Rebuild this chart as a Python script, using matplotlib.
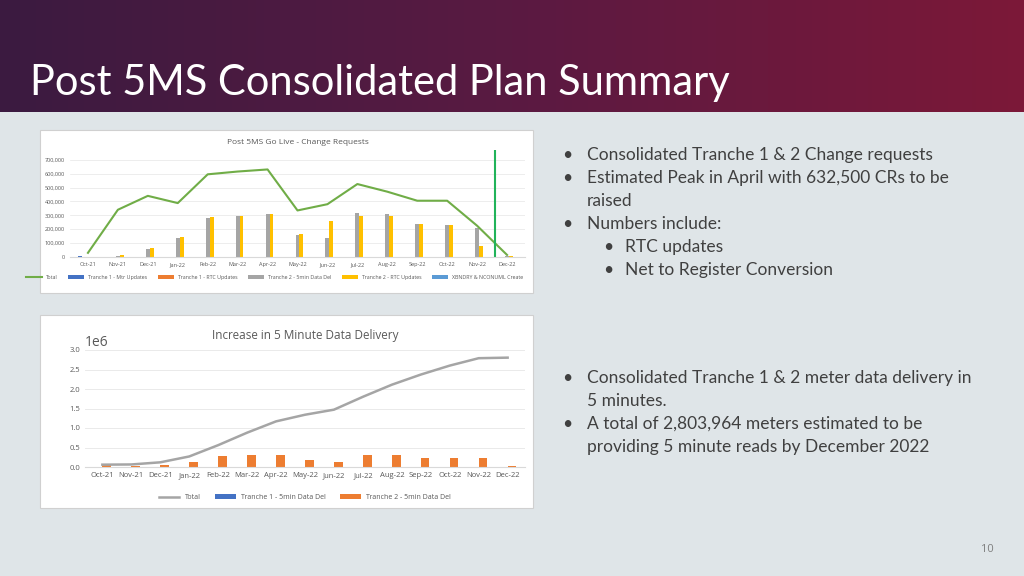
import matplotlib.pyplot as plt
import numpy as np
from matplotlib.patches import Rectangle
from matplotlib.colors import LinearSegmentedColormap

months = ['Oct-21', 'Nov-21', 'Dec-21', 'Jan-22', 'Feb-22', 'Mar-22', 'Apr-22', 'May-22',
          'Jun-22', 'Jul-22', 'Aug-22', 'Sep-22', 'Oct-22', 'Nov-22', 'Dec-22']

# top chart: change requests
t1_mtr = [10000, 0, 0, 0, 0, 0, 0, 0, 0, 0, 0, 0, 0, 0, 0]
t1_rtc = [3000, 0, 0, 0, 0, 0, 0, 0, 0, 0, 0, 0, 0, 0, 0]
t2_5min = [0, 8000, 60000, 140000, 283000, 298000, 310000, 160000, 138000, 315000, 310000, 238000, 233000, 210000, 8000]
t2_rtc = [0, 15000, 65000, 145000, 288000, 298000, 310000, 165000, 260000, 297000, 295000, 238000, 233000, 80000, 8000]
xbndry = [0, 0, 0, 0, 0, 0, 0, 0, 0, 0, 0, 0, 0, 0, 0]
cr_total = [30000, 340000, 440000, 388000, 595000, 615000, 630000, 335000, 380000, 525000, 470000, 405000, 405000, 225000, 15000]

# bottom chart: 5 minute data delivery
d_t1 = [0] * 15
d_t2 = [50000, 30000, 50000, 140000, 290000, 300000, 320000, 170000, 140000, 320000, 320000, 240000, 235000, 225000, 20000]
d_total = [60000, 65000, 120000, 270000, 560000, 880000, 1170000, 1340000, 1470000, 1800000, 2110000, 2370000, 2600000, 2790000, 2804000]

plt.rcParams['font.family'] = 'Open Sans'
W, H = 1024, 576
fig = plt.figure(figsize=(W / 100, H / 100), dpi=100)
fig.patch.set_facecolor('#dfe5e8')

# background axes holding the white chart panels
bg = fig.add_axes([0, 0, 1, 1], zorder=-5)
bg.set_xlim(0, W)
bg.set_ylim(H, 0)
bg.axis('off')
for (x0, y0, x1, y1) in [(40, 130, 533, 293), (40, 315, 533, 508)]:
    bg.add_patch(Rectangle((x0, y0), x1 - x0, y1 - y0, facecolor='white',
                           edgecolor='#d0d0d0', lw=0.8))

# header gradient
hdr = fig.add_axes([0, 1 - 112 / H, 1, 112 / H])
grad = np.linspace(0, 1, 256).reshape(1, -1)
cmap = LinearSegmentedColormap.from_list('h', ['#3b1a40', '#5a1a42', '#7c1838'])
hdr.imshow(grad, aspect='auto', cmap=cmap, extent=[0, 1, 0, 1])
hdr.axis('off')
fig.text(30 / W, 1 - 95 / H, 'Post 5MS Consolidated Plan Summary', color='white',
         fontsize=30, fontfamily='Lato', va='baseline')

x = np.arange(len(months))
tick_col = '#595959'

# top chart
ax1 = fig.add_axes([70 / W, 1 - 257 / H, 455 / W, 107 / H])
ax1.patch.set_alpha(0)
bw = 0.13
ax1.bar(x - 2 * bw, t1_mtr, bw, color='#4472c4', label='Tranche 1 - Mtr Updates')
ax1.bar(x - bw, t1_rtc, bw, color='#ed7d31', label='Tranche 1 - RTC Updates')
ax1.bar(x, t2_5min, bw, color='#a5a5a5', label='Tranche 2 - 5min Data Del')
ax1.bar(x + bw, t2_rtc, bw, color='#ffc000', label='Tranche 2 - RTC Updates')
ax1.bar(x + 2 * bw, xbndry, bw, color='#5b9bd5', label='XBNDRY & NCONUML Create')
ax1.plot(x, cr_total, color='#70ad47', lw=1.5, label='Total')
ax1.plot([13.6, 13.6], [0, 770000], color='#21b35a', lw=1.5)
ax1.set_ylim(0, 770000)
ax1.set_xlim(-0.6, 14.6)
ax1.set_yticks(range(0, 700001, 100000))
ax1.set_yticklabels([f'{v:,}' for v in range(0, 700001, 100000)])
ax1.set_xticks(x)
ax1.set_xticklabels(months)
ax1.tick_params(labelsize=4, colors=tick_col, length=0)
ax1.grid(axis='y', color='#e6e6e6', lw=0.5)
ax1.set_axisbelow(True)
for s in ax1.spines.values():
    s.set_visible(False)
ax1.spines['bottom'].set_visible(True)
ax1.spines['bottom'].set_color('#d9d9d9')
ax1.set_title('Post 5MS Go Live - Change Requests', fontsize=6, color=tick_col, pad=4)
ax1.legend(loc='upper center', bbox_to_anchor=(0.45, -0.12), ncol=6, frameon=False,
           fontsize=3.8, handlelength=3, labelcolor=tick_col)

# bottom chart
ax2 = fig.add_axes([85 / W, 1 - 467 / H, 440 / W, 117 / H])
ax2.patch.set_alpha(0)
bw2 = 0.3
ax2.bar(x - bw2 / 2, d_t1, bw2, color='#4472c4', label='Tranche 1 - 5min Data Del')
ax2.bar(x + bw2 / 2, d_t2, bw2, color='#ed7d31', label='Tranche 2 - 5min Data Del')
ax2.plot(x, d_total, color='#a5a5a5', lw=1.8, label='Total')
ax2.set_ylim(0, 3000000)
ax2.set_xlim(-0.6, 14.6)
ax2.set_yticks(range(0, 3000001, 500000))
ax2.set_xticks(x)
ax2.set_xticklabels(months)
ax2.tick_params(labelsize=5.5, colors=tick_col, length=0)
ax2.grid(axis='y', color='#e6e6e6', lw=0.6)
ax2.set_axisbelow(True)
for s in ax2.spines.values():
    s.set_visible(False)
ax2.spines['bottom'].set_visible(True)
ax2.spines['bottom'].set_color('#d9d9d9')
ax2.set_title('Increase in 5 Minute Data Delivery', fontsize=8.5, color=tick_col, pad=8)
ax2.legend(loc='upper center', bbox_to_anchor=(0.5, -0.18), ncol=3, frameon=False,
           fontsize=5, handlelength=3, labelcolor=tick_col)

# bullet text
txt = '#404040'
fs = 12.5
def bullet(xb, xt, y, s):
    fig.text(xb / W, 1 - y / H, '•', fontsize=fs, color=txt, va='center', fontfamily='Lato')
    fig.text(xt / W, 1 - y / H, s, fontsize=fs, color=txt, va='center', fontfamily='Lato')

bullet(562, 587, 155, 'Consolidated Tranche 1 & 2 Change requests')
bullet(562, 587, 178, 'Estimated Peak in April with 632,500 CRs to be')
fig.text(587 / W, 1 - 201 / H, 'raised', fontsize=fs, color=txt, va='center', fontfamily='Lato')
bullet(562, 587, 224, 'Numbers include:')
bullet(603, 625, 247, 'RTC updates')
bullet(603, 625, 270, 'Net to Register Conversion')

bullet(562, 587, 378, 'Consolidated Tranche 1 & 2 meter data delivery in')
fig.text(587 / W, 1 - 401 / H, '5 minutes.', fontsize=fs, color=txt, va='center', fontfamily='Lato')
bullet(562, 587, 424, 'A total of 2,803,964 meters estimated to be')
fig.text(587 / W, 1 - 447 / H, 'providing 5 minute reads by December 2022', fontsize=fs, color=txt,
         va='center', fontfamily='Lato')

fig.text(987 / W, 1 - 549 / H, '10', fontsize=8, color='#7f7f7f', va='center', ha='center')

fig.savefig('out.png', dpi=100, facecolor=fig.get_facecolor())
